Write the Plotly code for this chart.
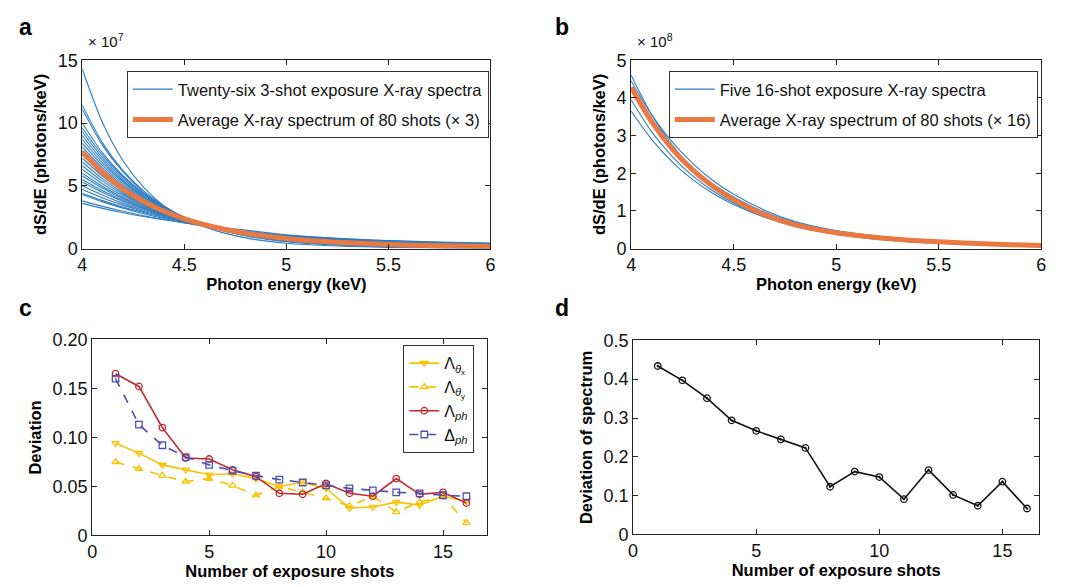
import plotly.graph_objects as go

# ---------------- data ----------------
# Panel a: energy grid (keV) and spectra (x 1e7 photons/keV)
energy_a = [4.0, 4.1, 4.2, 4.3, 4.4, 4.5, 4.65, 4.8, 5.0, 5.25, 5.5, 5.75, 6.0]
spectra_a = [
    [14.3, 10.0, 7.0, 4.9, 3.4, 2.4, 1.45, 0.85, 0.42, 0.2, 0.1, 0.05, 0.03],
    [11.4, 8.4, 6.2, 4.6, 3.4, 2.5, 1.6, 1.0, 0.55, 0.28, 0.14, 0.08, 0.05],
    [11.1, 8.2, 6.1, 4.5, 3.35, 2.5, 1.62, 1.05, 0.6, 0.32, 0.17, 0.1, 0.06],
    [10.0, 7.6, 5.8, 4.4, 3.3, 2.5, 1.65, 1.1, 0.65, 0.36, 0.2, 0.12, 0.08],
    [9.6, 7.4, 5.7, 4.35, 3.3, 2.5, 1.68, 1.13, 0.68, 0.38, 0.22, 0.14, 0.09],
    [9.3, 7.2, 5.55, 4.25, 3.25, 2.48, 1.68, 1.15, 0.7, 0.4, 0.24, 0.15, 0.1],
    [9.0, 7.0, 5.4, 4.15, 3.2, 2.47, 1.7, 1.17, 0.72, 0.42, 0.26, 0.17, 0.11],
    [8.7, 6.8, 5.3, 4.1, 3.18, 2.47, 1.72, 1.2, 0.75, 0.45, 0.28, 0.18, 0.12],
    [8.4, 6.6, 5.15, 4.0, 3.12, 2.45, 1.72, 1.21, 0.77, 0.47, 0.3, 0.2, 0.14],
    [8.1, 6.4, 5.0, 3.92, 3.08, 2.43, 1.72, 1.22, 0.79, 0.49, 0.32, 0.21, 0.15],
    [7.8, 6.15, 4.85, 3.82, 3.02, 2.4, 1.72, 1.23, 0.81, 0.51, 0.34, 0.23, 0.17],
    [7.5, 5.95, 4.7, 3.73, 2.97, 2.37, 1.71, 1.24, 0.83, 0.53, 0.36, 0.25, 0.18],
    [7.2, 5.75, 4.58, 3.65, 2.92, 2.35, 1.71, 1.25, 0.85, 0.56, 0.38, 0.27, 0.2],
    [6.9, 5.55, 4.45, 3.57, 2.87, 2.32, 1.7, 1.26, 0.87, 0.58, 0.4, 0.29, 0.22],
    [6.6, 5.35, 4.33, 3.5, 2.83, 2.3, 1.7, 1.27, 0.89, 0.6, 0.42, 0.31, 0.24],
    [6.3, 5.15, 4.2, 3.42, 2.79, 2.28, 1.7, 1.28, 0.91, 0.62, 0.44, 0.33, 0.26],
    [6.0, 4.95, 4.07, 3.35, 2.75, 2.26, 1.7, 1.29, 0.93, 0.64, 0.46, 0.35, 0.28],
    [5.8, 4.8, 3.97, 3.28, 2.71, 2.24, 1.69, 1.3, 0.94, 0.66, 0.48, 0.37, 0.3],
    [5.5, 4.6, 3.84, 3.2, 2.67, 2.22, 1.69, 1.31, 0.96, 0.68, 0.5, 0.39, 0.31],
    [5.3, 4.46, 3.75, 3.15, 2.64, 2.2, 1.69, 1.32, 0.98, 0.7, 0.52, 0.4, 0.32],
    [5.0, 4.25, 3.6, 3.05, 2.58, 2.18, 1.69, 1.33, 1.0, 0.72, 0.54, 0.42, 0.34],
    [4.7, 4.03, 3.46, 2.96, 2.53, 2.16, 1.69, 1.34, 1.01, 0.74, 0.56, 0.44, 0.36],
    [4.4, 3.82, 3.31, 2.87, 2.48, 2.14, 1.69, 1.35, 1.03, 0.76, 0.58, 0.46, 0.38],
    [4.3, 3.72, 3.22, 2.78, 2.4, 2.07, 1.64, 1.31, 1.01, 0.76, 0.58, 0.46, 0.38],
    [3.8, 3.36, 2.97, 2.62, 2.32, 2.05, 1.67, 1.36, 1.06, 0.8, 0.62, 0.5, 0.41],
    [3.6, 3.2, 2.85, 2.55, 2.3, 2.06, 1.75, 1.47, 1.1, 0.82, 0.64, 0.52, 0.44],
]
average_a = [7.7, 6.05, 4.75, 3.75, 2.97, 2.37, 1.7, 1.22, 0.8, 0.5, 0.33, 0.23, 0.17]

# Panel b: spectra (x 1e8 photons/keV)
energy_b = [4.0, 4.1, 4.2, 4.3, 4.4, 4.5, 4.65, 4.8, 5.0, 5.25, 5.5, 5.75, 6.0]
spectra_b = [
    [4.6, 3.55, 2.75, 2.13, 1.66, 1.3, 0.88, 0.6, 0.38, 0.22, 0.14, 0.09, 0.06],
    [4.45, 3.55, 2.83, 2.26, 1.8, 1.44, 1.02, 0.72, 0.48, 0.3, 0.19, 0.13, 0.09],
    [4.25, 3.38, 2.69, 2.14, 1.71, 1.37, 0.97, 0.69, 0.46, 0.29, 0.19, 0.13, 0.09],
    [3.95, 3.1, 2.45, 1.93, 1.53, 1.21, 0.85, 0.6, 0.39, 0.24, 0.15, 0.1, 0.07],
    [3.65, 2.9, 2.3, 1.83, 1.46, 1.17, 0.83, 0.59, 0.39, 0.25, 0.16, 0.11, 0.08],
]
average_b = [4.28, 3.37, 2.65, 2.09, 1.65, 1.3, 0.9, 0.63, 0.42, 0.27, 0.18, 0.12, 0.08]

# Panels c, d
shots = list(range(1, 17))
lambda_theta_x = [0.094, 0.084, 0.072, 0.067, 0.062, 0.063, 0.058, 0.050, 0.054, 0.048,
                  0.028, 0.029, 0.034, 0.031, 0.040, 0.035]
lambda_theta_y = [0.075, 0.068, 0.061, 0.055, 0.058, 0.051, 0.041, 0.050, 0.044, 0.038,
                  0.030, 0.040, 0.024, 0.034, 0.040, 0.013]
lambda_ph = [0.165, 0.152, 0.110, 0.079, 0.078, 0.067, 0.060, 0.043, 0.042, 0.053,
             0.043, 0.040, 0.058, 0.042, 0.044, 0.033]
delta_ph = [0.160, 0.113, 0.092, 0.080, 0.072, 0.066, 0.061, 0.057, 0.054, 0.051,
            0.048, 0.046, 0.044, 0.043, 0.041, 0.040]
spectrum_dev = [0.434, 0.397, 0.351, 0.294, 0.267, 0.245, 0.223, 0.123, 0.162, 0.148,
                0.091, 0.166, 0.102, 0.074, 0.136, 0.067]

# ---------------- figure ----------------
W, H = 1077, 587
FONT = "Arial, Liberation Sans, Helvetica, sans-serif"
BLUE = "#2F7DC0"
ORANGE = "#EA7841"
YELLOW = "#F7C200"
RED = "#C1272D"
PURPLE = "#5050B4"


def px_x(p):
    return p / W


def px_y(p):
    return 1 - p / H


fig = go.Figure()

# panel a
for i, s in enumerate(spectra_a):
    fig.add_trace(go.Scatter(
        x=energy_a, y=s, mode="lines", line=dict(color=BLUE, width=1.1, shape="spline", smoothing=0.8),
        name="Twenty-six 3-shot exposure X-ray spectra", showlegend=(i == 0),
        legendgroup="a1", legend="legend", xaxis="x", yaxis="y"))
fig.add_trace(go.Scatter(
    x=energy_a, y=average_a, mode="lines", line=dict(color=ORANGE, width=5, shape="spline", smoothing=0.8),
    name="Average X-ray spectrum of 80 shots (× 3)", legendgroup="a2", legend="legend",
    xaxis="x", yaxis="y"))

# panel b
for i, s in enumerate(spectra_b):
    fig.add_trace(go.Scatter(
        x=energy_b, y=s, mode="lines", line=dict(color=BLUE, width=1.1, shape="spline", smoothing=0.8),
        name="Five 16-shot exposure X-ray spectra", showlegend=(i == 0),
        legendgroup="b1", legend="legend2", xaxis="x2", yaxis="y2"))
fig.add_trace(go.Scatter(
    x=energy_b, y=average_b, mode="lines", line=dict(color=ORANGE, width=5, shape="spline", smoothing=0.8),
    name="Average X-ray spectrum of 80 shots (× 16)", legendgroup="b2", legend="legend2",
    xaxis="x2", yaxis="y2"))

# panel c
c_series = [
    (lambda_theta_x, "Λ<sub><i>θ</i><sub>x</sub></sub>", YELLOW, "solid", "triangle-down-open"),
    (lambda_theta_y, "Λ<sub><i>θ</i><sub>y</sub></sub>", YELLOW, "dash", "triangle-up-open"),
    (lambda_ph, "Λ<sub><i>ph</i></sub>", RED, "solid", "circle-open"),
    (delta_ph, "Δ<sub><i>ph</i></sub>", PURPLE, "dash", "square-open"),
]
for k, (vals, nm, col, dash, sym) in enumerate(c_series):
    fig.add_trace(go.Scatter(
        x=shots, y=vals, mode="lines+markers", name=nm,
        line=dict(color=col, width=1.6, dash=dash),
        marker=dict(symbol=sym, size=6.5, color=col, line=dict(width=1.3, color=col)),
        legend="legend3", legendgroup="c%d" % k, xaxis="x3", yaxis="y3"))

# panel d
fig.add_trace(go.Scatter(
    x=shots, y=spectrum_dev, mode="lines+markers", showlegend=False,
    line=dict(color="#111111", width=1.6),
    marker=dict(symbol="circle-open-dot", size=6.5, color="#111111", line=dict(width=1.3)),
    xaxis="x4", yaxis="y4"))

tickfont = dict(family=FONT, size=18, color="#111111")
titlefont = dict(family=FONT, size=16.5, color="#000000", weight="bold")


def xax(domain, anchor, rng, tv, tt, title, standoff):
    return dict(domain=domain, anchor=anchor, range=rng, tickvals=tv, ticktext=tt,
                showline=True, linecolor="#222222", linewidth=1, mirror="ticks",
                ticks="inside", ticklen=5, tickcolor="#222222", showgrid=False, zeroline=False,
                tickfont=tickfont, title=dict(text=title, font=titlefont, standoff=standoff))


def yax(domain, anchor, rng, tv, tt, title, standoff):
    return dict(domain=domain, anchor=anchor, range=rng, tickvals=tv, ticktext=tt,
                showline=True, linecolor="#222222", linewidth=1, mirror="ticks",
                ticks="inside", ticklen=5, tickcolor="#222222", showgrid=False, zeroline=False,
                tickfont=tickfont, title=dict(text=title, font=titlefont, standoff=standoff))


dom_top = [px_y(247), px_y(52)]
dom_c = [px_y(544), px_y(341)]
dom_d = [px_y(543), px_y(342)]

e_ticks = [4, 4.5, 5, 5.5, 6]
e_text = ["4", "4.5", "5", "5.5", "6"]
n_ticks = [0, 5, 10, 15]
n_text = ["0", "5", "10", "15"]

fig.update_layout(
    width=W, height=H,
    margin=dict(l=0, r=0, t=0, b=0),
    paper_bgcolor="white", plot_bgcolor="white",
    font=dict(family=FONT, color="#111111"),
    xaxis=xax([px_x(78), px_x(490)], "y", [4, 6], e_ticks, e_text, "Photon energy (keV)", 2),
    yaxis=yax(dom_top, "x", [0, 15], [0, 5, 10, 15], ["0", "5", "10", "15"], "dS/dE (photons/keV)", 6),
    xaxis2=xax([px_x(632), px_x(1046)], "y2", [4, 6], e_ticks, e_text, "Photon energy (keV)", 2),
    yaxis2=yax(dom_top, "x2", [0, 5], [0, 1, 2, 3, 4, 5], ["0", "1", "2", "3", "4", "5"],
               "dS/dE (photons/keV)", 6),
    xaxis3=xax([px_x(88), px_x(487)], "y3", [0, 16.9], n_ticks, n_text, "Number of exposure shots", 2),
    yaxis3=yax(dom_c, "x3", [0, 0.2], [0, 0.05, 0.10, 0.15, 0.20],
               ["0", "0.05", "0.10", "0.15", "0.20"], "Deviation", 6),
    xaxis4=xax([px_x(634), px_x(1044)], "y4", [0, 16.5], n_ticks, n_text, "Number of exposure shots", 2),
    yaxis4=yax(dom_d, "x4", [0, 0.5], [0, 0.1, 0.2, 0.3, 0.4, 0.5],
               ["0", "0.1", "0.2", "0.3", "0.4", "0.5"], "Deviation of spectrum", 6),
    legend=dict(x=px_x(123), y=px_y(63), xanchor="left", yanchor="top",
                bgcolor="white", bordercolor="#333333", borderwidth=1,
                font=dict(family=FONT, size=16.5, color="#111111"), tracegroupgap=6,
                itemwidth=40),
    legend2=dict(x=px_x(670), y=px_y(63), xanchor="left", yanchor="top",
                 bgcolor="white", bordercolor="#333333", borderwidth=1,
                 font=dict(family=FONT, size=16.5, color="#111111"), tracegroupgap=6,
                 itemwidth=40),
    legend3=dict(x=px_x(402), y=px_y(347), xanchor="left", yanchor="top",
                 bgcolor="white", bordercolor="#333333", borderwidth=1,
                 font=dict(family=FONT, size=16, color="#111111"), tracegroupgap=0,
                 itemwidth=30),
    showlegend=True,
)

annos = [
    ("a", 12, 18), ("b", 553, 18), ("c", 12, 308), ("d", 553, 308),
]
for txt, x, y in annos:
    fig.add_annotation(text="<b>%s</b>" % txt, x=px_x(x), y=px_y(y), xref="paper", yref="paper",
                       xanchor="left", yanchor="middle", showarrow=False,
                       font=dict(family=FONT, size=23, color="#000000"))
for txt, x in [("× 10<sup>7</sup>", 82), ("× 10<sup>8</sup>", 636)]:
    fig.add_annotation(text=txt, x=px_x(x), y=px_y(32), xref="paper", yref="paper",
                       xanchor="left", yanchor="middle", showarrow=False,
                       font=dict(family=FONT, size=15, color="#111111"))

fig.write_html("out.html")
